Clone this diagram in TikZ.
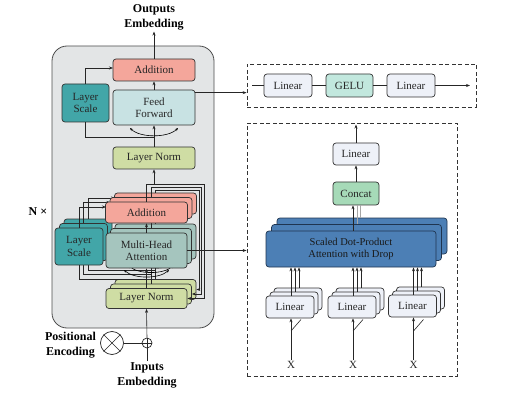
\documentclass[tikz,border=0pt]{standalone}
\usepackage{fontspec}
\setmainfont{Liberation Serif}
\usetikzlibrary{arrows.meta,calc}
\definecolor{bggray}{HTML}{E3E5E6}
\definecolor{addc}{HTML}{F4A69B}
\definecolor{ffc}{HTML}{C8E2E3}
\definecolor{lsc}{HTML}{42A6A8}
\definecolor{lnc}{HTML}{CFDDA4}
\definecolor{mhac}{HTML}{A5C5BE}
\definecolor{sdpac}{HTML}{4C7FB5}
\definecolor{sdpab}{HTML}{1F3550}
\definecolor{linc}{HTML}{EEF1F8}
\definecolor{geluc}{HTML}{C2E8DE}
\definecolor{concatc}{HTML}{A6DAB8}
\tikzset{
  blk/.style={draw=black!80, line width=0.7pt, rounded corners=3pt, align=center, inner sep=1pt, font=\fontsize{11}{12.5}\selectfont, text=black!85},
  arr/.style={-{Stealth[length=4pt,width=3pt]}, line width=0.6pt, draw=black!85},
  lnk/.style={line width=0.6pt, draw=black!85},
  dbox/.style={draw=black!80, line width=0.8pt, dash pattern=on 4pt off 2.5pt},
  lbl/.style={align=center, font=\fontsize{12}{15}\selectfont\bfseries, inner sep=1pt},
  dbl/.style={{Stealth[length=3pt,width=2.5pt]}-{Stealth[length=3pt,width=2.5pt]}, line width=0.6pt},
}
\begin{document}
\begin{tikzpicture}[x=1pt,y=-1pt]
\useasboundingbox (0,0) rectangle (507,404);
% background block
\node[draw=black!70, line width=0.8pt, fill=bggray, rounded corners=15pt, minimum width=162pt, minimum height=282pt, inner sep=0pt] (bg) at (133,187) {};
% top column
\node[blk, fill=addc, minimum width=82pt, minimum height=22pt] (addT) at (154,70) {Addition};
\node[blk, fill=ffc, minimum width=82pt, minimum height=35pt] (ff) at (154,107.5) {Feed\\Forward};
\node[blk, fill=lsc, minimum width=47pt, minimum height=38pt] (lsT) at (85.5,103) {Layer\\Scale};
\node[blk, fill=lnc, minimum width=82pt, minimum height=22pt] (lnT) at (154,158) {Layer Norm};
\node[lbl] (outT) at (154,17.5) {Outputs\\Embedding};
\draw[arr] (addT.north) -- (outT.south);
\draw[arr] (ff.north) -- (addT.south);
\draw[arr] (lnT.north) -- (ff.south);
\coordinate (rT) at (154,137);
\draw[lnk] (rT) -| (lsT.south);
\coordinate (aTin) at (113,68);
\draw[arr] (lsT.north) |- (aTin);
\draw[dbl] (130,128) .. controls (140,138) and (168,138) .. (178,128);
% stacked layers
\foreach \k in {2,1,0}{
  \pgfmathsetmacro\dd{4.5*\k}
  \begin{scope}[shift={(\dd,-\dd)}]
    \node[blk, fill=lnc, minimum width=81pt, minimum height=20pt] (ln\k) at (146.5,298.5) {\ifnum\k=0 Layer Norm\fi};
    \node[blk, fill=mhac, minimum width=81pt, minimum height=35pt] (mha\k) at (146.5,250.5) {\ifnum\k=0 Multi-Head\\Attention\fi};
    \node[blk, fill=addc, minimum width=82pt, minimum height=21pt] (add\k) at (146.5,212.5) {\ifnum\k=0 Addition\fi};
    \node[blk, fill=lsc, minimum width=48pt, minimum height=37pt] (ls\k) at (79,246.5) {\ifnum\k=0 Layer\\Scale\fi};
    \draw[arr] (ln\k.north) -- (mha\k.south);
    \draw[arr] (mha\k.north) -- (add\k.south);
    \draw[lnk] (146.5,279) -| (ls\k.south);
    \draw[arr] (ls\k.north) |- (106,207);
    \draw[dbl] (124,270) .. controls (134,279) and (159,279) .. (169,270);
  \end{scope}
  \pgfmathsetmacro\T{184+3*\k}
  \pgfmathsetmacro\R{204-2.5*\k}
  \draw[arr] (add\k.north) |- (\R,\T) |- (ln\k.east);
}
\coordinate (stk) at (154,184);
\draw[arr] (stk) -- (lnT.south);
\node[lbl] (nx) at (38,212) {N ×};
% positional encoding and input
\node[lbl] (pos) at (70.5,345.5) {Positional\\Encoding};
\node[draw=black!85, line width=0.7pt, circle, minimum size=23pt, inner sep=0pt] (otim) at (112,343) {};
\draw[lnk] (otim.north east) -- (otim.south west);
\draw[lnk] (otim.north west) -- (otim.south east);
\node[draw=black!85, line width=0.7pt, circle, minimum size=10pt, inner sep=0pt] (opl) at (147,343) {};
\draw[lnk] (opl.north) -- (opl.south);
\draw[lnk] (opl.west) -- (opl.east);
\draw[lnk] (otim.east) -- (opl.west);
\node[lbl] (inp) at (147,375) {Inputs\\Embedding};
\draw[lnk] (inp.north) -- (opl.south);
\draw[arr] (opl.north) -- (ln0.south);
% feed forward detail box
\node[dbox, minimum width=229pt, minimum height=43pt, inner sep=0pt] (box1) at (361.5,85.5) {};
\node[blk, fill=linc, minimum width=48pt, minimum height=23pt] (lin1) at (288,85.5) {Linear};
\node[blk, fill=geluc, minimum width=47pt, minimum height=23pt] (gelu) at (349.5,85.5) {GELU};
\node[blk, fill=linc, minimum width=48pt, minimum height=23pt] (lin2) at (411,85.5) {Linear};
\coordinate (b1s) at (252,85.5);
\coordinate (b1e) at (470,85.5);
\draw[lnk] (b1s) -- (lin1.west);
\draw[lnk] (lin1.east) -- (gelu.west);
\draw[lnk] (gelu.east) -- (lin2.west);
\draw[arr] (lin2.east) -- (b1e);
\coordinate (ffo) at ([yshift=-3pt]ff.north east);
\draw[arr] (ffo) -- (ffo -| box1.west);
% attention detail box
\node[dbox, minimum width=210pt, minimum height=253pt, inner sep=0pt] (box2) at (352,249.5) {};
\node[blk, fill=linc, minimum width=46pt, minimum height=22pt] (linT2) at (356,154) {Linear};
\node[blk, fill=concatc, minimum width=46pt, minimum height=23pt] (concat) at (356,193.5) {Concat};
\coordinate (b2top) at (356,124.5);
\draw[arr] (linT2.north) -- (b2top);
\draw[arr] (concat.north) -- (linT2.south);
\foreach \k in {2,1,0}{
  \node[blk, fill=sdpac, draw=sdpab, minimum width=170pt, minimum height=36pt, font=\fontsize{10.5}{12.5}\selectfont, text=black!90] (sd\k) at (351+5.5*\k, 249-6.5*\k) {\ifnum\k=0 Scaled Dot-Product\\Attention with Drop\fi};
}
\coordinate (cin) at ([xshift=-3pt]concat.south);
\coordinate (cin1) at ([xshift=1pt]concat.south);
\coordinate (cin2) at ([xshift=4.5pt]concat.south);
\draw[lnk, draw=black!35] (cin2 |- sd2.north) -- (cin2);
\draw[lnk, draw=black!35] (cin1 |- sd1.north) -- (cin1);
\draw[arr] (cin |- sd0.north) -- (cin);
\draw[arr] (mha0.east) -- (mha0.east -| box2.west);
\foreach \j/\cx/\cy in {1/290/307, 2/352/307, 3/412.5/306}{
  \foreach \k in {2,1,0}{
    \node[blk, fill=linc, minimum width=48pt, minimum height=22pt] (l\j\k) at (\cx+4*\k, \cy-4*\k) {\ifnum\k=0 Linear\fi};
    \coordinate (t\j\k) at ([xshift=1pt]l\j\k.north);
    \draw[arr] (t\j\k) -- (t\j\k |- sd0.south);
  }
  \node[font=\fontsize{11}{12}\selectfont, inner sep=1pt, text=black!85] (x\j) at (\cx+1,365) {X};
  \draw[arr] (x\j.north) -- (x\j.north |- l\j0.south);
  \draw[lnk] (\cx+1,331) -- (\cx+11,319.5);
}
\end{tikzpicture}
\end{document}
